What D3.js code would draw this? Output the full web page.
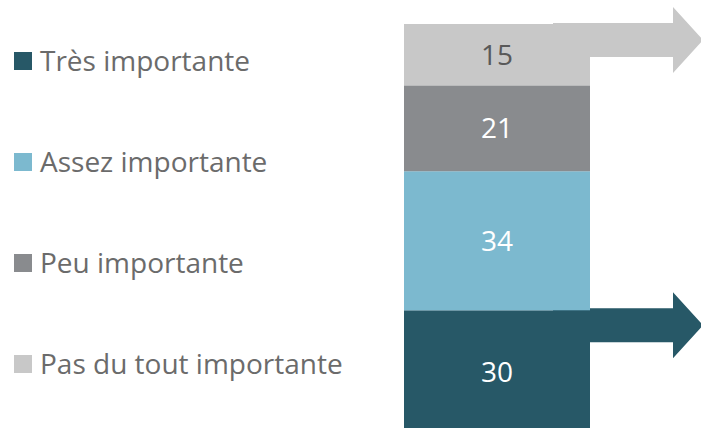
<!DOCTYPE html>
<html>
<head>
<meta charset="utf-8">
<script src="https://cdn.jsdelivr.net/npm/d3@7"></script>
<style>
  body { margin: 0; background: #fff; }
  svg { display: block; font-family: "Open Sans", sans-serif; }
</style>
</head>
<body>
<svg></svg>
<script>
// data, bottom to top of the bar
const categories = ['Très importante', 'Assez importante', 'Peu importante', 'Pas du tout importante']
const values = [30, 34, 21, 15]
const colors = ['#275867', '#7cb9cf', '#898b8e', '#c8c8c8']
const labelColors = ['#ffffff', '#ffffff', '#ffffff', '#595959']

const width = 701
const height = 428

const svg = d3.select('svg')
              .attr('width', width)
              .attr('height', height)

// scales (bar runs a bit past the bottom edge)
const yscale = d3.scaleLinear()
                 .domain([0, 100])
                 .range([433, 24])
const xscale = d3.scaleBand()
                 .domain(['total'])
                 .range([404, 590])

// stack the single column
let acc = 0
const stacked = values.map((v, i) => {
    const d = {cat: categories[i], value: v, y0: acc, y1: acc + v, color: colors[i], lc: labelColors[i]}
    acc += v
    return d
})

// arrows (drawn first, bar goes over them)
const arrow = (y0, h, color) => {
    const x0 = 553, xh = 673, tip = 703, head = 16
    const pts = [
        [x0, y0], [xh, y0], [xh, y0 - head], [tip, y0 + h / 2],
        [xh, y0 + h + head], [xh, y0 + h], [x0, y0 + h]
    ]
    svg.append('polygon')
       .attr('points', pts.map(p => p.join(',')).join(' '))
       .attr('fill', color)
}
arrow(yscale(100) - 1, 34, colors[3])
arrow(yscale(values[0]) - 2, 34, colors[0])

svg.append('g').selectAll('rect')
   .data(stacked)
   .join('rect')
   .attr('x', xscale('total'))
   .attr('width', xscale.bandwidth())
   .attr('y', d => yscale(d.y1))
   .attr('height', d => yscale(d.y0) - yscale(d.y1))
   .attr('fill', d => d.color)

svg.append('g').selectAll('text')
   .data(stacked)
   .join('text')
   .attr('x', xscale('total') + xscale.bandwidth() / 2)
   .attr('y', d => yscale((d.y0 + d.y1) / 2))
   .attr('dy', '0.36em')
   .attr('text-anchor', 'middle')
   .attr('font-size', 28)
   .attr('fill', d => d.lc)
   .text(d => d.value)

// legend
const legend = svg.append('g')
const ly = d3.scalePoint()
             .domain(categories)
             .range([61, 364])
const items = legend.selectAll('g')
   .data(stacked)
   .join('g')
   .attr('transform', d => `translate(14,${ly(d.cat)})`)
items.append('rect')
     .attr('y', -9)
     .attr('width', 18)
     .attr('height', 18)
     .attr('fill', d => d.color)
items.append('text')
     .attr('x', 26)
     .attr('y', 0)
     .attr('dy', '0.36em')
     .attr('font-size', 28)
     .attr('fill', '#6b6b6b')
     .text(d => d.cat)
</script>
</body>
</html>
